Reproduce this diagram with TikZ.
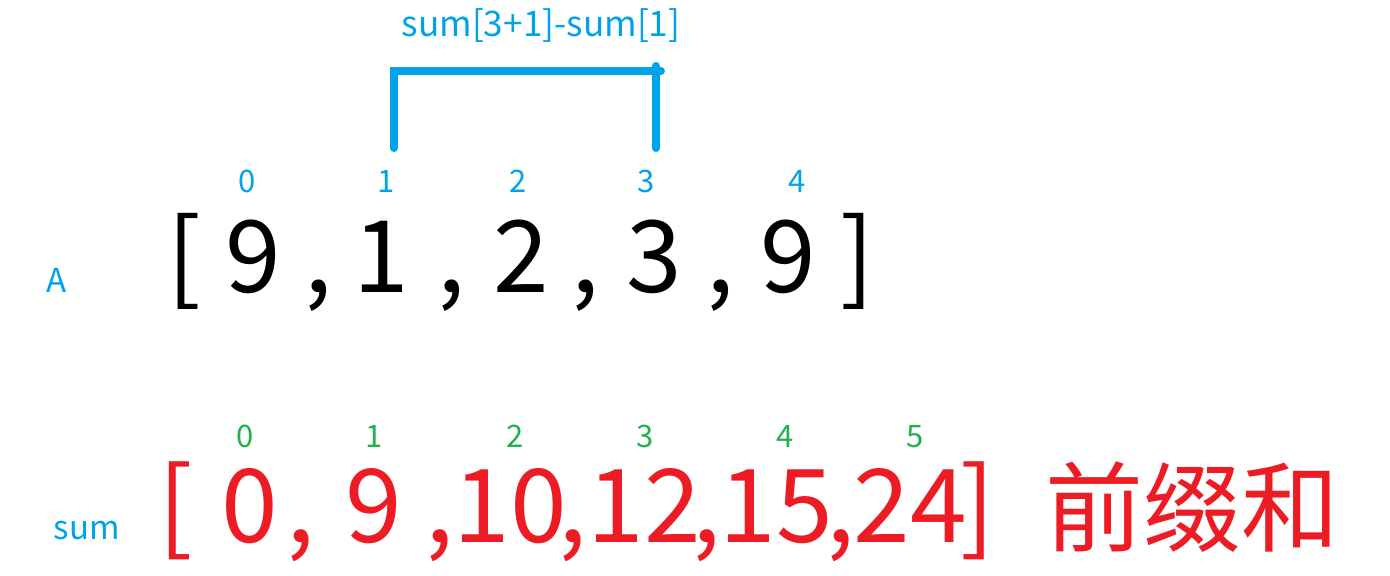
\documentclass[tikz,border=0pt]{standalone}
\usepackage{fontspec}
\setmainfont{Noto Sans CJK SC}
\definecolor{pblue}{HTML}{00A2E8}
\definecolor{pgreen}{HTML}{22B14C}
\definecolor{pred}{HTML}{ED1C24}
\begin{document}
\begin{tikzpicture}[x=0.5pt,y=-0.5pt,
  every node/.style={inner sep=0pt,outer sep=0pt,anchor=base},
  idx/.style={font=\fontsize{15.5}{16}\selectfont,text=pblue},
  gidx/.style={font=\fontsize{15.5}{16}\selectfont,text=pgreen},
  lbl/.style={font=\fontsize{16.5}{18}\selectfont,text=pblue},
  ttl/.style={font=\fontsize{17.6}{19}\selectfont,text=pblue},
  arr/.style={font=\fontsize{50}{52}\selectfont,text=black},
  sarr/.style={font=\fontsize{51}{54}\selectfont,text=pred},
  cjk/.style={font=\fontsize{49}{52}\selectfont,text=pred},
  brk/.style={draw=pblue,line width=4pt}]
\useasboundingbox (0,0) rectangle (1390,576);
% title
\node[ttl] (title) at (541,37) {sum[3+1]-sum[1]};
% bracket connector
\coordinate (bl) at (394,148);
\coordinate (tl) at (394,71);
\coordinate (tr) at (661,71);
\coordinate (rt) at (656,66);
\coordinate (rb) at (656,148);
\draw[brk,line cap=round] (bl) -- (tl) -- (tr);
\draw[brk,line cap=round] (rt) -- (rb);
% A indices
\node[idx] (i0) at (247,193) {0};
\node[idx] (i1) at (386,193) {1};
\node[idx] (i2) at (518,193) {2};
\node[idx] (i3) at (646,193) {3};
\node[idx] (i4) at (797,193) {4};
% A label and array
\node[lbl] (A) at (57,293) {A};
\node[arr] (ao) at (184,293) {[};
\node[arr] (a0) at (253,293) {9};
\node[arr] (c1) at (318,293) {,};
\node[arr] (a1) at (381,293) {1};
\node[arr] (c2) at (451,293) {,};
\node[arr] (a2) at (521,293) {2};
\node[arr] (c3) at (585,293) {,};
\node[arr] (a3) at (654,293) {3};
\node[arr] (c4) at (720,293) {,};
\node[arr] (a4) at (788,293) {9};
\node[arr] (ac) at (857,293) {]};
% sum indices
\node[gidx] (s0) at (245,448) {0};
\node[gidx] (s1) at (374,448) {1};
\node[gidx] (s2) at (515,448) {2};
\node[gidx] (s3) at (645,448) {3};
\node[gidx] (s4) at (785,448) {4};
\node[gidx] (s5) at (915,448) {5};
% sum label and array
\node[lbl] (sum) at (87,539) {sum};
\node[sarr] (so) at (176,542) {[};
\node[sarr] (b0) at (250,542) {0};
\node[sarr] (d1) at (301,542) {,};
\node[sarr] (b1) at (374,542) {9};
\node[sarr] (d2) at (440,542) {,};
\node[sarr] (b2) at (510,542) {10};
\node[sarr] (d3) at (573,542) {,};
\node[sarr] (b3) at (644,542) {12};
\node[sarr] (d4) at (707,542) {,};
\node[sarr] (b4) at (776,542) {15};
\node[sarr] (d5) at (841,542) {,};
\node[sarr] (b5) at (910,542) {24};
\node[sarr] (sc) at (978,542) {]};
\node[cjk] (cn) at (1192,544) {前缀和};
\end{tikzpicture}
\end{document}
